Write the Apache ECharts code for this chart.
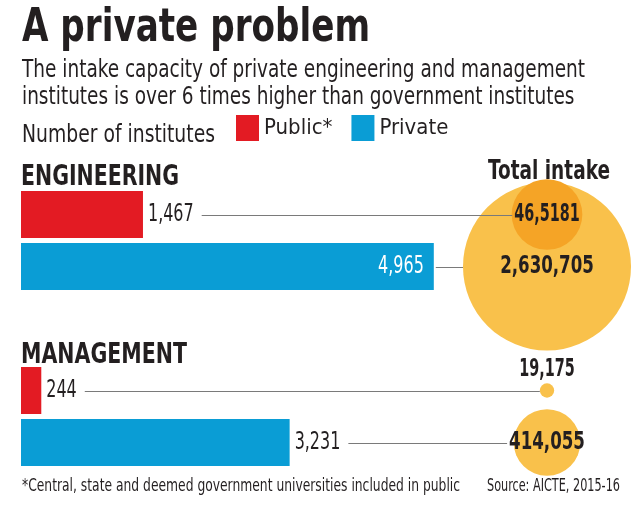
<!DOCTYPE html>
<html>
<head>
<meta charset="utf-8">
<script src="https://cdn.jsdelivr.net/npm/echarts@6/dist/echarts.min.js"></script>
</head>
<body style="margin: 0; background: #fff">
<div id="main" style="width: 640px; height: 505px;"></div>
<script type="text/javascript">
// data
var groups = ['ENGINEERING', 'MANAGEMENT'];
var types = ['Public*', 'Private'];
var publicInstitutes = [1467, 244];
var privateInstitutes = [4965, 3231];
var publicIntake = [465181, 19175];
var privateIntake = [2630705, 414055];
// intake labels as printed on the original (typo included)
var publicIntakeLabels = ['46,5181', '19,175'];
var privateIntakeLabels = ['2,630,705', '414,055'];

var FONT = "'Liberation Sans Narrow', 'DejaVu Sans Condensed', sans-serif";
var INK = '#231f20';
var RED = '#e31b23';
var BLUE = '#0a9dd5';
var YELLOW = '#f9c14b';
var ORANGE = '#f5a426';
var LINE = '#7a7a7a';
var maxIntake = 2630705;
var maxDiameter = 168;
var LABEL_SX = 0.74;   // condense the value labels
var BUBBLE_SX = [0.64, 0.74];   // public, private bubble labels

var ctx = document.createElement('canvas').getContext('2d');
function textWidth(str, size, weight) {
    ctx.font = (weight || 'normal') + ' ' + size + 'px ' + FONT;
    return ctx.measureText(str).width;
}
function bubbleSize(v) {
    return maxDiameter * Math.sqrt(v / maxIntake);
}

var gridTops = [188.5, 364.5];
var grids = [], xAxes = [], yAxes = [], series = [];

groups.forEach(function (g, i) {
    grids.push({left: 21, width: 582, top: gridTops[i], height: 104});
    xAxes.push({type: 'value', gridIndex: i, min: 0, max: 7000, show: false});
    yAxes.push({type: 'category', gridIndex: i, data: types, inverse: true, show: false});
});
groups.forEach(function (g, i) {
    grids.push({left: 467, width: 160, top: gridTops[i], height: 104});
    xAxes.push({type: 'category', gridIndex: i + 2, data: ['Total intake'], show: false});
    yAxes.push({type: 'category', gridIndex: i + 2, data: types, inverse: true, show: false});
});

// which bar label sits inside its bar
var insideLabel = [[false, true], [false, false]];

groups.forEach(function (g, i) {
    series.push({
        name: 'Public*', type: 'bar', xAxisIndex: i, yAxisIndex: i,
        barWidth: 47, barGap: '-100%', silent: true,
        itemStyle: {color: RED},
        data: [publicInstitutes[i], '-']
    });
    series.push({
        name: 'Private', type: 'bar', xAxisIndex: i, yAxisIndex: i,
        barWidth: 47, barGap: '-100%', silent: true,
        itemStyle: {color: BLUE},
        data: ['-', privateInstitutes[i]]
    });
    // value labels for the bars
    series.push({
        type: 'custom', xAxisIndex: i, yAxisIndex: i, z: 5, silent: true,
        data: [[publicInstitutes[i], 'Public*'], [privateInstitutes[i], 'Private']],
        renderItem: (function (gi) {
            return function (params, api) {
                var p = api.coord([api.value(0), api.value(1)]);
                var inside = insideLabel[gi][params.dataIndex];
                return {
                    type: 'text', x: inside ? p[0] - 10 : p[0] + 5, y: p[1], scaleX: LABEL_SX,
                    style: {
                        text: echarts.format.addCommas(api.value(0)),
                        fill: inside ? '#fff' : INK, fontSize: 24, fontFamily: FONT,
                        align: inside ? 'right' : 'left', verticalAlign: 'middle'
                    }
                };
            };
        })(i)
    });
    series.push({
        name: 'Private intake', type: 'scatter', xAxisIndex: i + 2, yAxisIndex: i + 2,
        z: 2, silent: true,
        symbolSize: function (d) { return bubbleSize(d[2]); },
        itemStyle: {color: YELLOW, opacity: 1},
        data: [['Total intake', 'Private', privateIntake[i]]]
    });
    series.push({
        name: 'Public intake', type: 'scatter', xAxisIndex: i + 2, yAxisIndex: i + 2,
        z: 3, silent: true,
        symbolSize: function (d) { return bubbleSize(d[2]); },
        itemStyle: {color: i === 0 ? ORANGE : YELLOW, opacity: 1},
        data: [['Total intake', 'Public*', publicIntake[i]]]
    });
    // bubble labels
    series.push({
        type: 'custom', xAxisIndex: i + 2, yAxisIndex: i + 2, z: 12, silent: true,
        data: [['Total intake', 'Public*', publicIntake[i]], ['Total intake', 'Private', privateIntake[i]]],
        renderItem: (function (gi) {
            return function (params, api) {
                var p = api.coord([api.value(0), api.value(1)]);
                var r = bubbleSize(api.value(2)) / 2;
                var tag = params.dataIndex === 0 ? publicIntakeLabels[gi] : privateIntakeLabels[gi];
                var above = r < 15;
                return {
                    type: 'text', x: p[0], y: above ? p[1] - r - 1 : p[1], scaleX: BUBBLE_SX[params.dataIndex],
                    style: {
                        text: tag, fill: INK, fontSize: 25, fontWeight: 'bold', fontFamily: FONT,
                        align: 'center', verticalAlign: above ? 'bottom' : 'middle'
                    }
                };
            };
        })(i)
    });
});

// header and footer texts, condensed to the widths of the original
var texts = [
    {text: 'A private problem', x: 22, y: 1, w: 348, size: 46, weight: 'bold'},
    {text: 'The intake capacity of private engineering and management\ninstitutes is over 6 times higher than government institutes',
        x: 22, y: 57, w: 563, size: 25, lineHeight: 27, measure: 'The intake capacity of private engineering and management'},
    {text: 'Number of institutes', x: 22, y: 120, w: 193, size: 25},
    {text: groups[0], x: 21, y: 160, w: 158, size: 29, weight: 'bold'},
    {text: groups[1], x: 21, y: 338, w: 166, size: 29, weight: 'bold'},
    {text: 'Total intake', x: 488, y: 157, w: 122, size: 26, weight: 'bold'},
    {text: '*Central, state and deemed government universities included in public', x: 22, y: 476, w: 438, size: 18},
    {text: 'Source: AICTE, 2015-16', x: 487, y: 476, w: 133, size: 18}
];
var headers = texts.map(function (t) {
    var sx = t.w / textWidth(t.measure || t.text, t.size, t.weight);
    return {
        type: 'text', x: t.x, y: t.y, scaleX: sx, z: 20, silent: true,
        style: {
            text: t.text, fill: INK, fontSize: t.size, fontWeight: t.weight || 'normal',
            fontFamily: FONT, lineHeight: t.lineHeight || t.size * 1.2,
            align: 'left', verticalAlign: 'top'
        }
    };
});

var option = {
    animation: false,
    textStyle: {fontFamily: FONT},
    legend: {
        data: types, left: 236, top: 115, padding: 0,
        icon: 'rect', itemWidth: 23, itemHeight: 26, itemGap: 19,
        selectedMode: false,
        textStyle: {fontSize: 22, color: INK, fontFamily: FONT}
    },
    grid: grids,
    xAxis: xAxes,
    yAxis: yAxes,
    series: series
};

var chart = echarts.init(document.getElementById('main'));
chart.setOption(option);

// connector lines from the bar labels to the bubbles
var connectors = [];
groups.forEach(function (g, i) {
    var rows = [
        {type: 'Public*', value: publicInstitutes[i], intake: publicIntake[i], tag: publicIntakeLabels[i],
            inside: insideLabel[i][0], toText: i === 0, sx: BUBBLE_SX[0]},
        {type: 'Private', value: privateInstitutes[i], intake: privateIntake[i], tag: privateIntakeLabels[i],
            inside: insideLabel[i][1], toText: i === 1, sx: BUBBLE_SX[1]}
    ];
    rows.forEach(function (r) {
        var y = Math.round(chart.convertToPixel({yAxisIndex: i}, r.type)) + 0.5;
        var barEnd = chart.convertToPixel({xAxisIndex: i}, r.value);
        var x0 = r.inside ? barEnd + 2
            : barEnd + 5 + textWidth(echarts.format.addCommas(r.value), 24) * LABEL_SX + 8;
        var cx = chart.convertToPixel({xAxisIndex: i + 2}, 'Total intake');
        var x1 = r.toText ? cx - textWidth(r.tag, 25, 'bold') * r.sx / 2 - 2
            : cx - bubbleSize(r.intake) / 2;
        connectors.push({
            type: 'line', z: 10, silent: true,
            shape: {x1: x0, y1: y, x2: x1, y2: y},
            style: {stroke: LINE, lineWidth: 1}
        });
    });
});
chart.setOption({graphic: headers.concat(connectors)});
</script>
</body>
</html>
